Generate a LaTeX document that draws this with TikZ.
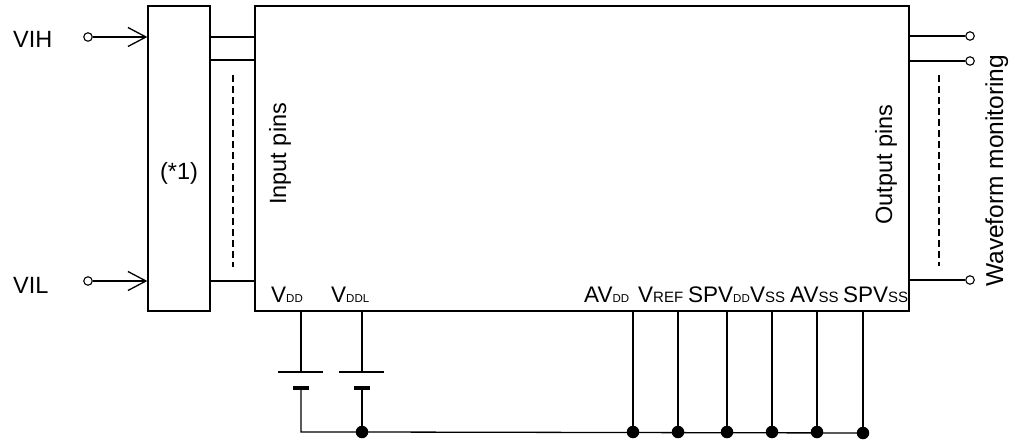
\documentclass[tikz,border=0pt]{standalone}
\usepackage{fontspec}
\setmainfont{Liberation Sans}
\usetikzlibrary{arrows.meta}
\newcommand\smallsub[1]{{\fontsize{11.5}{11}\selectfont #1}}
\newcommand\midsub[1]{{\fontsize{15}{14}\selectfont #1}}
\begin{document}
\begin{tikzpicture}[x=1pt,y=-1pt,
  wire/.style={line width=1.3pt},
  arr/.style={wire,-{Straight Barb[length=18pt,width=19pt,line width=1.3pt]}},
  boxx/.style={draw,line width=1.3pt,inner sep=0pt},
  txt/.style={inner sep=0pt,font=\fontsize{23.5}{27}\selectfont},
  btxt/.style={inner sep=0pt,font=\fontsize{22.5}{26}\selectfont},
  term/.style={draw,circle,line width=1.1pt,fill=white,inner sep=0pt,minimum size=8.5pt},
  dotb/.style={circle,fill=black,inner sep=0pt,minimum size=12.5pt},
  dashl/.style={line width=1.1pt,dash pattern=on 7pt off 4pt}]
\useasboundingbox (0,0) rectangle (1015,441);
% boxes
\node[boxx,minimum width=62pt,minimum height=305pt] (conv) at (179,158.5) {};
\node[boxx,minimum width=654pt,minimum height=305pt] (chip) at (582,158.5) {};
% inputs
\node[txt,anchor=base west] (vihl) at (13,48) {VIH};
\node[txt,anchor=base west] (vill) at (13,293) {VIL};
\node[term] (vihc) at (88,37) {};
\node[term] (vilc) at (88,281) {};
\draw[arr] (vihc) -- (conv.west |- vihc);
\draw[arr] (vilc) -- (conv.west |- vilc);
\node[txt,anchor=base] (star) at (179,179) {(*1)};
% input pins
\coordinate (i1) at (232,37);
\coordinate (i2) at (232,60);
\coordinate (i3) at (232,281);
\draw[wire] (conv.east |- i1) -- (chip.west |- i1);
\draw[wire] (conv.east |- i2) -- (chip.west |- i2);
\draw[wire] (conv.east |- i3) -- (chip.west |- i3);
\coordinate (d1t) at (233,75);
\coordinate (d1b) at (233,267);
\draw[dashl] (d1t) -- (d1b);
\node[txt,rotate=90,anchor=base west] (inp) at (286,205) {Input pins};
% output pins
\node[txt,rotate=90,anchor=base west] (outp) at (892,225) {Output pins};
\node[term] (o1) at (970,36) {};
\node[term] (o2) at (970,61) {};
\node[term] (o3) at (970,280) {};
\draw[wire] (chip.east |- o1) -- (o1);
\draw[wire] (chip.east |- o2) -- (o2);
\draw[wire] (chip.east |- o3) -- (o3);
\coordinate (d2t) at (939,75);
\coordinate (d2b) at (939,266);
\draw[dashl] (d2t) -- (d2b);
\node[inner sep=0pt,font=\fontsize{24.5}{28}\selectfont,rotate=90,anchor=base west] (wave) at (1003,287) {Waveform monitoring};
% bottom labels
\node[btxt,anchor=base west] (lvdd) at (271,302) {V\smallsub{DD}};
\node[btxt,anchor=base west] (lvddl) at (331,302) {V\smallsub{DDL}};
\node[btxt,anchor=base west] (lavdd) at (584,302) {AV\smallsub{DD}};
\node[btxt,anchor=base west] (lvref) at (638,302) {V\midsub{REF}};
\node[btxt,anchor=base west] (lspvdd) at (688,302) {SPV\smallsub{DD}};
\node[btxt,anchor=base west] (lvss) at (750,302) {V\midsub{SS}};
\node[btxt,anchor=base west] (lavss) at (790,302) {AV\midsub{SS}};
\node[btxt,anchor=base west] (lspvss) at (843,302) {SPV\midsub{SS}};
% batteries
\coordinate (b1l) at (301,372);
\coordinate (b1s) at (301,388);
\coordinate (b2l) at (362,372);
\coordinate (b2s) at (362,388);
\draw[wire] (chip.south -| b1l) -- (b1l);
\draw[wire] (chip.south -| b2l) -- (b2l);
\draw[line width=2.4pt] ([xshift=-23pt]b1l) -- ([xshift=22pt]b1l);
\draw[line width=2.4pt] ([xshift=-23pt]b2l) -- ([xshift=22pt]b2l);
\draw[line width=4.8pt] ([xshift=-8pt]b1s) -- ([xshift=8pt]b1s);
\draw[line width=4.8pt] ([xshift=-8pt]b2s) -- ([xshift=8pt]b2s);
% ground rail
\coordinate (g0) at (301,432);
\node[dotb] (g1) at (362,432) {};
\node[dotb] (g2) at (633,432) {};
\node[dotb] (g3) at (678,432) {};
\node[dotb] (g4) at (727,432) {};
\node[dotb] (g5) at (772,432) {};
\node[dotb] (g6) at (817,432) {};
\node[dotb] (g7) at (863,433) {};
\draw[wire] (b1s) -- (g0) -- (g1.center) -- (g7.center);
\draw[wire] (b2s) -- (g1.center);
\foreach \n in {g2,g3,g4,g5,g6,g7}
  \draw[wire] (chip.south -| \n) -- (\n.center);
\end{tikzpicture}
\end{document}
